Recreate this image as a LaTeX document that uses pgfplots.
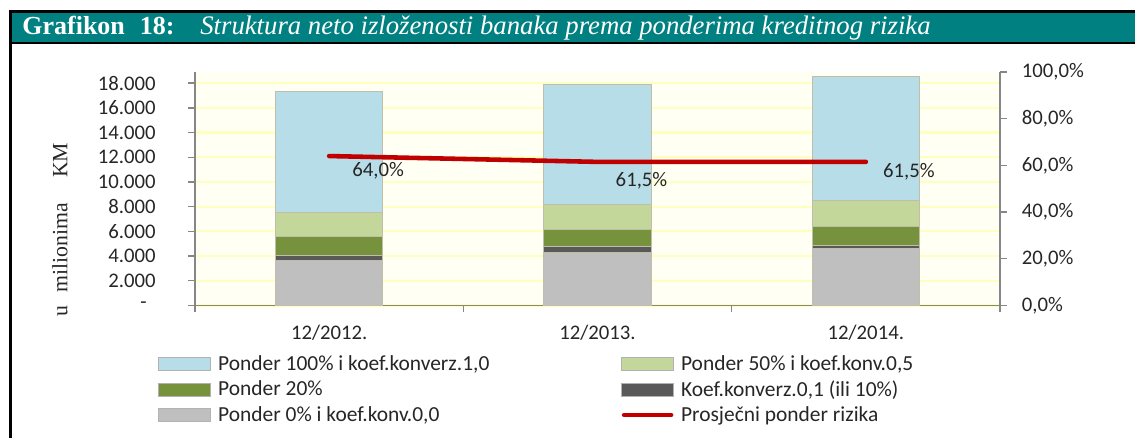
\documentclass[border=0pt]{standalone}
\usepackage{fontspec}
\setmainfont{Carlito}
\newfontfamily\tnr{Liberation Serif}
\usepackage{pgfplots}
\pgfplotsset{compat=1.18}

\definecolor{c100}{RGB}{183,221,232}
\definecolor{c50}{RGB}{196,215,155}
\definecolor{c20}{RGB}{118,146,60}
\definecolor{c10}{RGB}{89,89,89}
\definecolor{c0}{RGB}{191,191,191}
\definecolor{cline}{RGB}{192,0,0}
\definecolor{tealband}{RGB}{0,128,128}
\definecolor{axgray}{RGB}{134,134,134}
\definecolor{gridy}{RGB}{255,255,190}
\definecolor{bgy}{RGB}{255,255,243}
\definecolor{edge}{RGB}{190,190,170}

\newcommand{\fs}{\fontsize{11.8}{14}\selectfont}
\newcommand{\fl}{\fontsize{12.2}{14}\selectfont}

\pgfplotsset{
  legbar/.style={legend image code/.code={%
    \draw[##1] (0cm,-0.13cm) rectangle (1.04cm,0.13cm);}},
  legline/.style={legend image code/.code={%
    \draw[##1] (0.05cm,0cm) -- (0.99cm,0cm);}},
}

% segment heights (mil. KM), bottom to top
\pgfplotstableread{
x  p0    p10  p20   p50   p100
0  3680  400  1490  1980  9780
1  4270  540  1370  1990  9750
2  4620  270  1480  2100  10090
}\exposure

\begin{document}
\begin{tikzpicture}
\path[use as bounding box] (0,0) rectangle (22.7,8.76);

% frame and title band
\fill[black] (0.18,0) rectangle (0.24,8.56);
\fill[black] (0.18,8.56) rectangle (22.7,8.50);
\fill[tealband] (0.24,8.50) rectangle (22.7,7.92);
\fill[black] (0.18,7.92) rectangle (22.7,7.88);
\node[anchor=base west, inner sep=0pt, text=white,
      font=\tnr\bfseries\fontsize{14.8}{17}\selectfont] at (0.44,8.06)
  {Grafikon\hspace{0.3cm}18:};
\node[anchor=base west, inner sep=0pt, text=white,
      font=\tnr\itshape\fontsize{15.2}{17}\selectfont] at (4.00,8.06)
  {Struktura neto izloženosti banaka prema ponderima kreditnog rizika};

% y label
\node[rotate=90, inner sep=0pt, text=black!85,
      font=\tnr\fontsize{12.4}{14}\selectfont] at (1.20,4.17)
  {u\hspace{0.26cm}milionima\hspace{0.5cm}KM};

\begin{axis}[
  at={(3.90cm,2.65cm)}, anchor=south west,
  scale only axis, width=16.10cm, height=4.67cm,
  xmin=-0.5, xmax=2.5, ymin=0, ymax=18900,
  ybar stacked, bar width=0.4,
  axis background/.style={fill=bgy},
  axis x line*=bottom, axis y line*=left,
  axis line style={draw=axgray, line width=0.8pt, -},
  xtick={-0.5,0.5,1.5,2.5}, xticklabels={,,,},
  extra x ticks={0,1,2},
  extra x tick labels={12/2012.,12/2013.,12/2014.},
  extra x tick style={major tick length=0pt},
  xticklabel style={font=\fs, inner sep=0pt, yshift=-0.38cm, text=black!85},
  scaled y ticks=false,
  ytick={0,2000,...,18000},
  yticklabels={{-\hspace*{0.18cm}},2.000,4.000,6.000,8.000,10.000,12.000,14.000,16.000,18.000},
  yticklabel style={font=\fs, inner sep=0pt, anchor=east, xshift=-0.64cm, text=black!85},
  ymajorgrids, grid style={draw=gridy, line width=1.2pt},
  tick align=outside, major tick length=0.14cm,
  tick style={draw=axgray, line width=0.8pt},
]
\addplot[fill=c0,   draw=edge, line width=0.5pt] table[x=x, y=p0]   {\exposure};
\addplot[fill=c10,  draw=edge, line width=0.5pt] table[x=x, y=p10]  {\exposure};
\addplot[fill=c20,  draw=edge, line width=0.5pt] table[x=x, y=p20]  {\exposure};
\addplot[fill=c50,  draw=edge, line width=0.5pt] table[x=x, y=p50]  {\exposure};
\addplot[fill=c100, draw=edge, line width=0.5pt] table[x=x, y=p100] {\exposure};
\end{axis}

\begin{axis}[
  at={(3.90cm,2.65cm)}, anchor=south west,
  scale only axis, width=16.10cm, height=4.67cm,
  xmin=-0.5, xmax=2.5, ymin=0, ymax=100,
  axis x line=none, axis y line*=right,
  axis line style={draw=axgray, line width=0.8pt, -},
  ytick={0,20,...,100},
  yticklabels={{0,0\%},{20,0\%},{40,0\%},{60,0\%},{80,0\%},{100,0\%}},
  yticklabel style={font=\fs, inner sep=0pt, anchor=west, xshift=0.29cm, text=black!85},
  tick align=outside, major tick length=0.14cm,
  tick style={draw=axgray, line width=0.8pt},
  legend columns=2, legend cell align=left,
  legend style={at={(-0.046,-0.212)}, anchor=north west, draw=none, fill=none,
    inner sep=0pt, column sep=0.14cm, row sep=0.15cm,
    nodes={inner sep=0pt, font=\fl, text=black!85}},
]
\addlegendimage{legbar, fill=c100, draw=black!30, line width=0.5pt}
\addlegendentry{\makebox[7.92cm][l]{Ponder 100\% i koef.konverz.1,0}}
\addlegendimage{legbar, fill=c50, draw=black!30, line width=0.5pt}
\addlegendentry{Ponder 50\% i koef.konv.0,5}
\addlegendimage{legbar, fill=c20, draw=black!30, line width=0.5pt}
\addlegendentry{\makebox[7.92cm][l]{Ponder 20\%}}
\addlegendimage{legbar, fill=c10, draw=black!30, line width=0.5pt}
\addlegendentry{Koef.konverz.0,1 (ili 10\%)}
\addlegendimage{legbar, fill=c0, draw=black!30, line width=0.5pt}
\addlegendentry{\makebox[7.92cm][l]{Ponder 0\% i koef.konv.0,0}}
\addplot[cline, line width=2.6pt, line cap=round, legline] coordinates {(0,64.0) (1,61.5) (2,61.5)};
\addlegendentry{Prosječni ponder rizika}
\node[font=\fs, text=black!85, inner sep=0pt, xshift=0.98cm, yshift=-0.30cm] at (axis cs:0,64.0) {64,0\%};
\node[font=\fs, text=black!85, inner sep=0pt, xshift=0.88cm, yshift=-0.38cm] at (axis cs:1,61.5) {61,5\%};
\node[font=\fs, text=black!85, inner sep=0pt, xshift=0.86cm, yshift=-0.20cm] at (axis cs:2,61.5) {61,5\%};
\end{axis}
\end{tikzpicture}
\end{document}
